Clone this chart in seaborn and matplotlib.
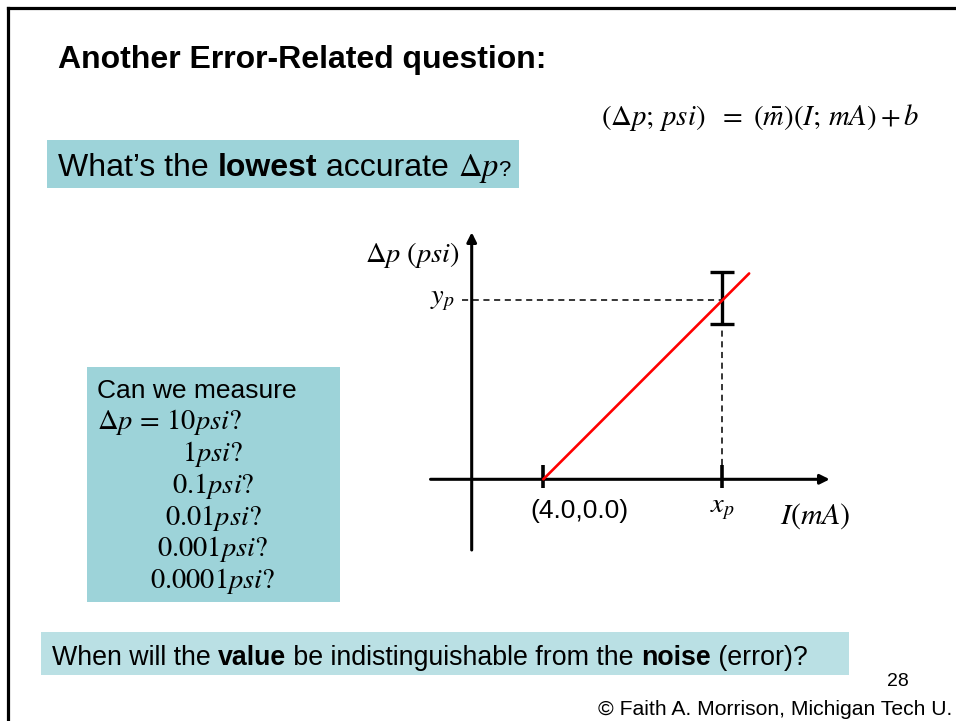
import matplotlib
matplotlib.use("Agg")
import matplotlib.pyplot as plt
from matplotlib.patches import Rectangle
import seaborn as sns

# ---- calibration sketch data (I in mA, Δp in psi) ----
current_mA = [4.0, 15.5]
pressure_psi = [0.0, 11.5]
x_p = 14.0
y_p = 10.0
y_err = 1.45
axis_I = [-2.3, 20.0]
axis_dp = [-3.95, 13.8]

# ---- slide text ----
title = "Another Error-Related question:"
question_values = ["1", "0.1", "0.01", "0.001", "0.0001"]
page_number = "28"
credit = "© Faith A. Morrison, Michigan Tech U."

sns.set_theme(style="white")
plt.rcParams["font.family"] = ["Liberation Sans", "DejaVu Sans"]
plt.rcParams["mathtext.fontset"] = "stix"
plt.rcParams["text.color"] = "black"

W, H = 956, 721
fig = plt.figure(figsize=(W / 100, H / 100), dpi=100)
fig.patch.set_facecolor("white")

# page layer in pixel units
bg = fig.add_axes([0, 0, 1, 1])
bg.set_xlim(0, W)
bg.set_ylim(H, 0)
bg.axis("off")

renderer = fig.canvas.get_renderer()
inv = bg.transData.inverted()


def text_width(s, **kw):
    t = bg.text(0, 0, s, **kw)
    bb = t.get_window_extent(renderer)
    t.remove()
    return bb.width


def put_runs(x, y, parts, size):
    """Write a line made of runs with different weights/fonts."""
    for s, kw in parts:
        opts = dict(fontsize=size, va="baseline", ha="left")
        opts.update(kw)
        gap = 0.0
        if s.endswith(" "):
            o2 = {k: v for k, v in opts.items() if k not in ("va", "ha")}
            gap = text_width("x x", **o2) - text_width("xx", **o2)
            s = s.rstrip(" ")
        t = bg.text(x, y, s, **opts)
        bb = t.get_window_extent(renderer)
        x = inv.transform((bb.x1 + gap, bb.y0))[0]
    return x


MATH = 20.5

# slide frame
bg.plot([8.5, 8.5], [H + 2, 8], color="black", lw=2.3, solid_capstyle="projecting")
bg.plot([8.5, W + 2], [8, 8], color="black", lw=2.3, solid_capstyle="projecting")

# title and model equation
bg.text(58, 68, title, fontsize=23, fontweight="bold", va="baseline", ha="left")
bg.text(920, 125, r"$(\Delta p;\,psi)\ \ =\ (\bar{m})(I;\,mA)+b$", fontsize=20.7,
        va="baseline", ha="right")

# question box
bg.add_patch(Rectangle((47, 140), 472, 48, color="#9dd3d9", lw=0))
put_runs(58, 176, [("What’s the ", {}), ("lowest", {"fontweight": "bold"}),
                   (" accurate ", {}), (r"$\Delta p$", {"fontsize": 23.5}),
                   ("?", {"fontsize": 16})], 23)

# resolution box
bg.add_patch(Rectangle((87, 367), 253, 235, color="#9dd3d9", lw=0))
bg.text(97, 398, "Can we measure", fontsize=19, va="baseline", ha="left")
bg.text(97, 429, r"$\Delta p\,=\,10psi?$", fontsize=MATH, va="baseline", ha="left")
for i, v in enumerate(question_values):
    bg.text(213, 461 + 31.8 * i, rf"${v}psi?$", fontsize=MATH,
            va="baseline", ha="center")

# noise box
bg.add_patch(Rectangle((41, 632), 808, 43, color="#bae0e4", lw=0))
put_runs(52, 665, [("When will the ", {}), ("value", {"fontweight": "bold"}),
                   (" be indistinguishable from the ", {}),
                   ("noise", {"fontweight": "bold"}), (" (error)?", {})], 19.3)

bg.text(898, 686, page_number, fontsize=14, va="baseline", ha="center")
bg.text(952, 715, credit, fontsize=15.2, va="baseline", ha="right")

# ---- calibration sketch axes: 17.9 px per unit, origin at (471.7, 479.3) ----
px = 17.9
ox, oy = 471.7, 479.3
xlim = (-2.6, 20.6)
ylim = (-4.3, 14.3)
left = ox + xlim[0] * px
right = ox + xlim[1] * px
bottom = oy - ylim[0] * px
top = oy - ylim[1] * px
ax = fig.add_axes([left / W, (H - bottom) / H, (right - left) / W, (bottom - top) / H])
ax.set_xlim(*xlim)
ax.set_ylim(*ylim)
ax.axis("off")
ax.patch.set_alpha(0)

arrow = dict(arrowstyle="-|>", lw=2.2, color="black", mutation_scale=14,
             shrinkA=0, shrinkB=0)
ax.annotate("", xy=(axis_I[1], 0), xytext=(axis_I[0], 0), arrowprops=arrow)
ax.annotate("", xy=(0, axis_dp[1]), xytext=(0, axis_dp[0]), arrowprops=arrow)

# tick marks at the zero-current point and at x_p
ax.vlines([current_mA[0], x_p], -0.5, 0.8, color="black", lw=2.6)

# guide lines to the point
ax.hlines(y_p, -0.56, x_p, color="black", lw=1.1, linestyle=(0, (4, 3)))
ax.vlines(x_p, 0.8, y_p - y_err, color="black", lw=1.1, linestyle=(0, (4, 3)))

ax.errorbar([x_p], [y_p + 0.15], yerr=[y_err], fmt="none", ecolor="black",
            elinewidth=2.4, capsize=8.5, capthick=2.4, zorder=3)
sns.lineplot(x=current_mA, y=pressure_psi, color="#ff0000", lw=1.9, ax=ax, zorder=4)

ax.text(current_mA[0] + 2.0, -2.16, f"({current_mA[0]:.1f},{pressure_psi[0]:.1f})",
        fontsize=19, ha="center", va="baseline", clip_on=False)
ax.text(x_p, -1.87, r"$x_p$", fontsize=MATH, ha="center", va="baseline", clip_on=False)
ax.text(17.22, -2.5, r"$I(mA)$", fontsize=MATH + 1, ha="left", va="baseline",
        clip_on=False)
ax.text(-0.65, 12.15, r"$\Delta p\ (psi)$", fontsize=MATH, ha="right", va="baseline",
        clip_on=False)
ax.text(-0.93, 9.85, r"$y_p$", fontsize=MATH, ha="right", va="baseline", clip_on=False)

fig.savefig("out.png", dpi=100)
